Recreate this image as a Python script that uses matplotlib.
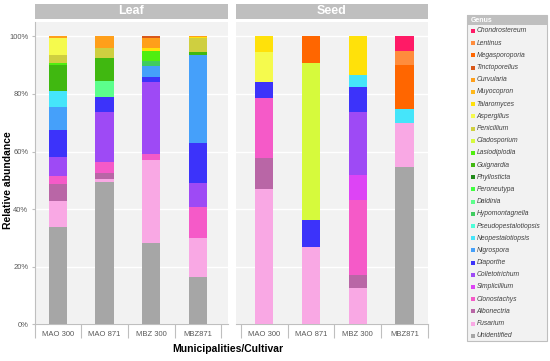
import matplotlib
matplotlib.use("Agg")
import matplotlib.pyplot as plt
import numpy as np
from matplotlib.patches import Rectangle

plt.rcParams['font.family'] = ['Liberation Sans', 'DejaVu Sans']

# genera, bottom of the stack first
genera = ['Unidentified', 'Fusarium', 'Albonectria', 'Clonostachys', 'Simplicillium',
          'Colletotrichum', 'Diaporthe', 'Nigrospora', 'Neopestalotiopsis',
          'Pseudopestalotiopsis', 'Hypomontagnella', 'Daldinia', 'Peroneutypa',
          'Phyllosticta', 'Guignardia', 'Lasiodiplodia', 'Cladosporium', 'Penicillium',
          'Aspergillus', 'Talaromyces', 'Muyocopron', 'Curvularia', 'Tinctoporellus',
          'Megasporoporia', 'Lentinus', 'Chondrostereum']

colors = ['#a6a6a6', '#f9a8e4', '#b966a6', '#f55ac8', '#dd44f5',
          '#9e4af5', '#3c33fa', '#45a0fa', '#45e5fa',
          '#4dffd9', '#40cc60', '#5cff8c', '#40ff40',
          '#208a1a', '#40b810', '#50ee10', '#d6fa3c', '#cfcf40',
          '#f5fa4d', '#ffe10a', '#ffb81a', '#ff9f1a', '#d9581a',
          '#ff6600', '#ff8c3c', '#ff1a66']

cultivars = ['MAO 300', 'MAO 871', 'MBZ 300', 'MBZ871']

# relative abundance (%) per genus, same order as `genera`
#                 Uni   Fus   Alb  Clo  Sim  Col   Dia   Nig   Neo  Pse Hyp  Dal  Per Phy Gui  Las  Cla   Pen  Asp   Tal   Muy Cur  Tin  Meg   Len  Cho
leaf_mao300 = [33.9, 9.1, 5.7, 2.7, 0, 6.6, 9.6, 7.9, 5.6, 0, 0, 0, 0, 0, 9.0, 0.8, 0, 2.6, 5.8, 0, 0, 0.7, 0, 0, 0, 0]
leaf_mao871 = [49.4, 1.0, 2.1, 3.9, 0, 17.2, 5.5, 0, 0, 0, 0, 5.5, 0, 0, 7.9, 0, 0, 3.5, 0, 0, 0, 4.0, 0, 0, 0, 0]
leaf_mbz300 = [28.4, 28.7, 0, 2.1, 0, 24.8, 1.9, 3.7, 0, 0, 2.0, 0, 0, 0, 0, 3.5, 0, 0, 0, 0.9, 0, 3.3, 0.7, 0, 0, 0]
leaf_mbz871 = [16.6, 13.3, 0, 10.7, 0, 8.4, 13.9, 30.7, 0, 0, 0, 0, 0, 0, 0.9, 0, 0, 4.8, 0, 0.4, 0, 0.3, 0, 0, 0, 0]

seed_mao300 = [0, 47.0, 10.6, 21.1, 0, 0, 5.4, 0, 0, 0, 0, 0, 0, 0, 0, 0, 0, 0, 10.5, 5.4, 0, 0, 0, 0, 0, 0]
seed_mao871 = [0, 27.0, 0, 0, 0, 0, 9.3, 0, 0, 0, 0, 0, 0, 0, 0, 0, 54.4, 0, 0, 0, 0, 0, 0, 9.3, 0, 0]
seed_mbz300 = [0, 12.7, 4.4, 26.1, 8.7, 21.9, 8.6, 0, 4.3, 0, 0, 0, 0, 0, 0, 0, 0, 0, 0, 13.3, 0, 0, 0, 0, 0, 0]
seed_mbz871 = [54.8, 15.1, 0, 0, 0, 0, 0, 0, 4.9, 0, 0, 0, 0, 0, 0, 0, 0, 0, 0, 0, 0, 0, 0, 15.1, 5.0, 5.1]

W, H = 550, 361
fig = plt.figure(figsize=(W / 100, H / 100), dpi=100)

def fx(px):
    return px / W

def fy(py):
    return 1 - py / H

def panel(left, right, xmin, xmax, data, title, show_y):
    ax = fig.add_axes([fx(left), fy(324.3), fx(right) - fx(left), fy(22) - fy(324.3)])
    ax.set_facecolor('#f2f2f2')
    mat = np.array(data).T  # genus x cultivar
    x = np.arange(len(cultivars))
    bottom = np.zeros(len(cultivars))
    for i, g in enumerate(genera):
        ax.bar(x, mat[i], 0.39, bottom=bottom, color=colors[i], zorder=3, linewidth=0)
        bottom += mat[i]
    ax.set_xlim(xmin, xmax)
    ax.set_ylim(0, 105)
    ax.set_yticks(np.arange(0, 101, 20))
    ax.yaxis.grid(True, color='white', linewidth=1.0, zorder=1)
    ax.set_xticks(x)
    ax.set_xticklabels(cultivars, fontsize=5.5, color='#595959')
    ax.set_xticks(np.arange(-0.5, len(cultivars), 1), minor=True)
    ax.tick_params(axis='x', which='major', length=0, pad=5)
    ax.tick_params(axis='x', which='minor', length=10, color='#bfbfbf', width=0.8)
    for s in ['top', 'right']:
        ax.spines[s].set_visible(False)
    ax.spines['bottom'].set_color('#bfbfbf')
    if show_y:
        ax.set_yticklabels([f'{v}%' for v in range(0, 101, 20)], fontsize=5.5, color='#595959')
        ax.tick_params(axis='y', length=2.5, color='#bfbfbf', width=0.8, pad=2)
        ax.spines['left'].set_color('#bfbfbf')
    else:
        ax.set_yticklabels([])
        ax.tick_params(axis='y', length=0)
        ax.spines['left'].set_visible(False)
    # header strip
    fig.add_artist(Rectangle((fx(left), fy(19)), fx(right) - fx(left), fy(4) - fy(19),
                             transform=fig.transFigure, facecolor='#bfbfbf', edgecolor='none'))
    fig.text((fx(left) + fx(right)) / 2, fy(11.5), title, ha='center', va='center',
             fontsize=9, fontweight='bold', color='white')
    return ax

panel(34.5, 228, -0.5, 3.64, [leaf_mao300, leaf_mao871, leaf_mbz300, leaf_mbz871], 'Leaf', True)
panel(236, 428, -0.6, 3.5, [seed_mao300, seed_mao871, seed_mbz300, seed_mbz871], 'Seed', False)

fig.text(fx(8), fy(180), 'Relative abundance', rotation=90, ha='center', va='center',
         fontsize=7.5, fontweight='bold', color='black')
fig.text(fx(228), fy(349), 'Municipalities/Cultivar', ha='center', va='center',
         fontsize=7.5, fontweight='bold', color='black')

# legend panel
lx0, lx1, ly0, ly1 = 467, 547, 15, 341
fig.add_artist(Rectangle((fx(lx0), fy(ly1)), fx(lx1) - fx(lx0), fy(ly0) - fy(ly1),
                         transform=fig.transFigure, facecolor='#f2f2f2', edgecolor='#bfbfbf', linewidth=0.8))
fig.add_artist(Rectangle((fx(lx0), fy(25)), fx(lx1) - fx(lx0), fy(ly0) - fy(25),
                         transform=fig.transFigure, facecolor='#bfbfbf', edgecolor='none'))
fig.text(fx(lx0 + 4), fy(20), 'Genus', ha='left', va='center', fontsize=5, fontweight='bold', color='white')
for k, i in enumerate(range(len(genera) - 1, -1, -1)):
    yy = 31 + k * 12.19
    fig.add_artist(Rectangle((fx(470.5), fy(yy + 2)), fx(4), fy(0) - fy(4),
                             transform=fig.transFigure, facecolor=colors[i], edgecolor='none'))
    fig.text(fx(476.5), fy(yy), genera[i], ha='left', va='center', fontsize=4.9,
             style='italic', color='#404040')

fig.savefig('out.png', dpi=100)
